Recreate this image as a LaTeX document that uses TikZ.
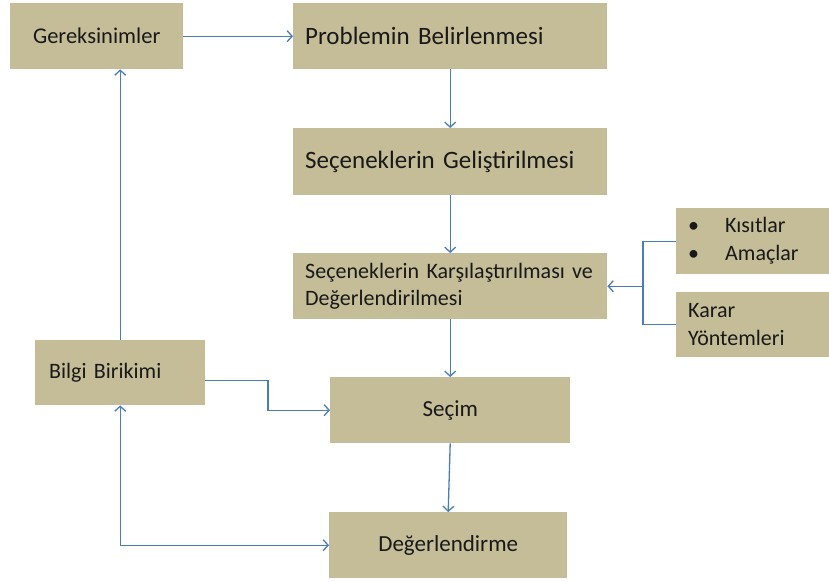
\documentclass[tikz,border=0pt]{standalone}
\usepackage{fontspec}
\setmainfont{Carlito}
\usetikzlibrary{arrows.meta}
\definecolor{boxfill}{HTML}{C4BD97}
\definecolor{arrblue}{HTML}{4A7EBB}
\newcommand{\fs}[2]{\fontsize{#1}{#2}\selectfont\spaceskip=.2em\relax}
\begin{document}
\begin{tikzpicture}[x=1pt,y=-1pt,
  box/.style={fill=boxfill, anchor=north west, inner ysep=0pt, align=left, text=black!90},
  ln/.style={draw=arrblue, line width=1.3pt},
  arr/.style={ln, -{Straight Barb[length=5pt,width=11pt]}},
  arrboth/.style={ln, {Straight Barb[length=5pt,width=11pt]}-{Straight Barb[length=5pt,width=11pt]}}]
\useasboundingbox (0,0) rectangle (829,581);
\node[box, inner xsep=0pt, align=center, text width=173pt, minimum height=66pt, font=\fs{22.5}{26}] (ger) at (10,3) {Gereksinimler};
\node[box, inner xsep=12pt, text width=290pt, minimum height=66pt, font=\fs{25}{30}] (prob) at (293,3) {Problemin Belirlenmesi};
\node[box, inner xsep=12pt, text width=290pt, minimum height=67pt, font=\fs{25}{30}] (gel) at (293,128) {Seçeneklerin Geliştirilmesi};
\node[box, inner xsep=12pt, text width=290pt, minimum height=66pt, font=\fs{22}{27}] (kar) at (293,253) {Seçeneklerin Karşılaştırılması ve\\Değerlendirilmesi};
\node[box, inner xsep=12pt, text width=129pt, minimum height=66pt, font=\fs{22}{28}] (kis) at (676,208) {\makebox[37pt][l]{\textbullet}Kısıtlar\\\makebox[37pt][l]{\textbullet}Amaçlar};
\node[box, inner xsep=12pt, text width=129pt, minimum height=65pt, font=\fs{22}{28}] (kay) at (676,292) {Karar\\Yöntemleri};
\node[box, inner xsep=14pt, text width=142pt, minimum height=65pt, font=\fs{22}{26}] (bil) at (35,340) {Bilgi Birikimi};
\node[box, inner xsep=0pt, align=center, text width=240pt, minimum height=66pt, font=\fs{23}{27}] (sec) at (330,377) {Seçim};
\node[box, inner xsep=0pt, align=center, text width=238pt, minimum height=66pt, font=\fs{23}{27}] (deg) at (329,512) {Değerlendirme};
\coordinate (b1) at (268,400);
\coordinate (jx) at (643,0);
\draw[arr] (ger.east) -- (prob.west);
\draw[arr] (prob.south) -- (gel.north);
\draw[arr] (gel.south) -- (kar.north);
\draw[arr] (kar.south) -- (sec.north);
\draw[arr] (sec.south) -- (deg.north);
\draw[arr] ([yshift=-8pt]bil.east) -| (b1) |- (sec.west);
\draw[arr] (bil.north) -- (bil.north |- ger.south);
\draw[arrboth] (deg.west) -| (bil.south);
\draw[ln] (kis.west) -| (kay.west -| jx) -- (kay.west);
\draw[arr] (kar.east -| jx) -- (kar.east);
\end{tikzpicture}
\end{document}
